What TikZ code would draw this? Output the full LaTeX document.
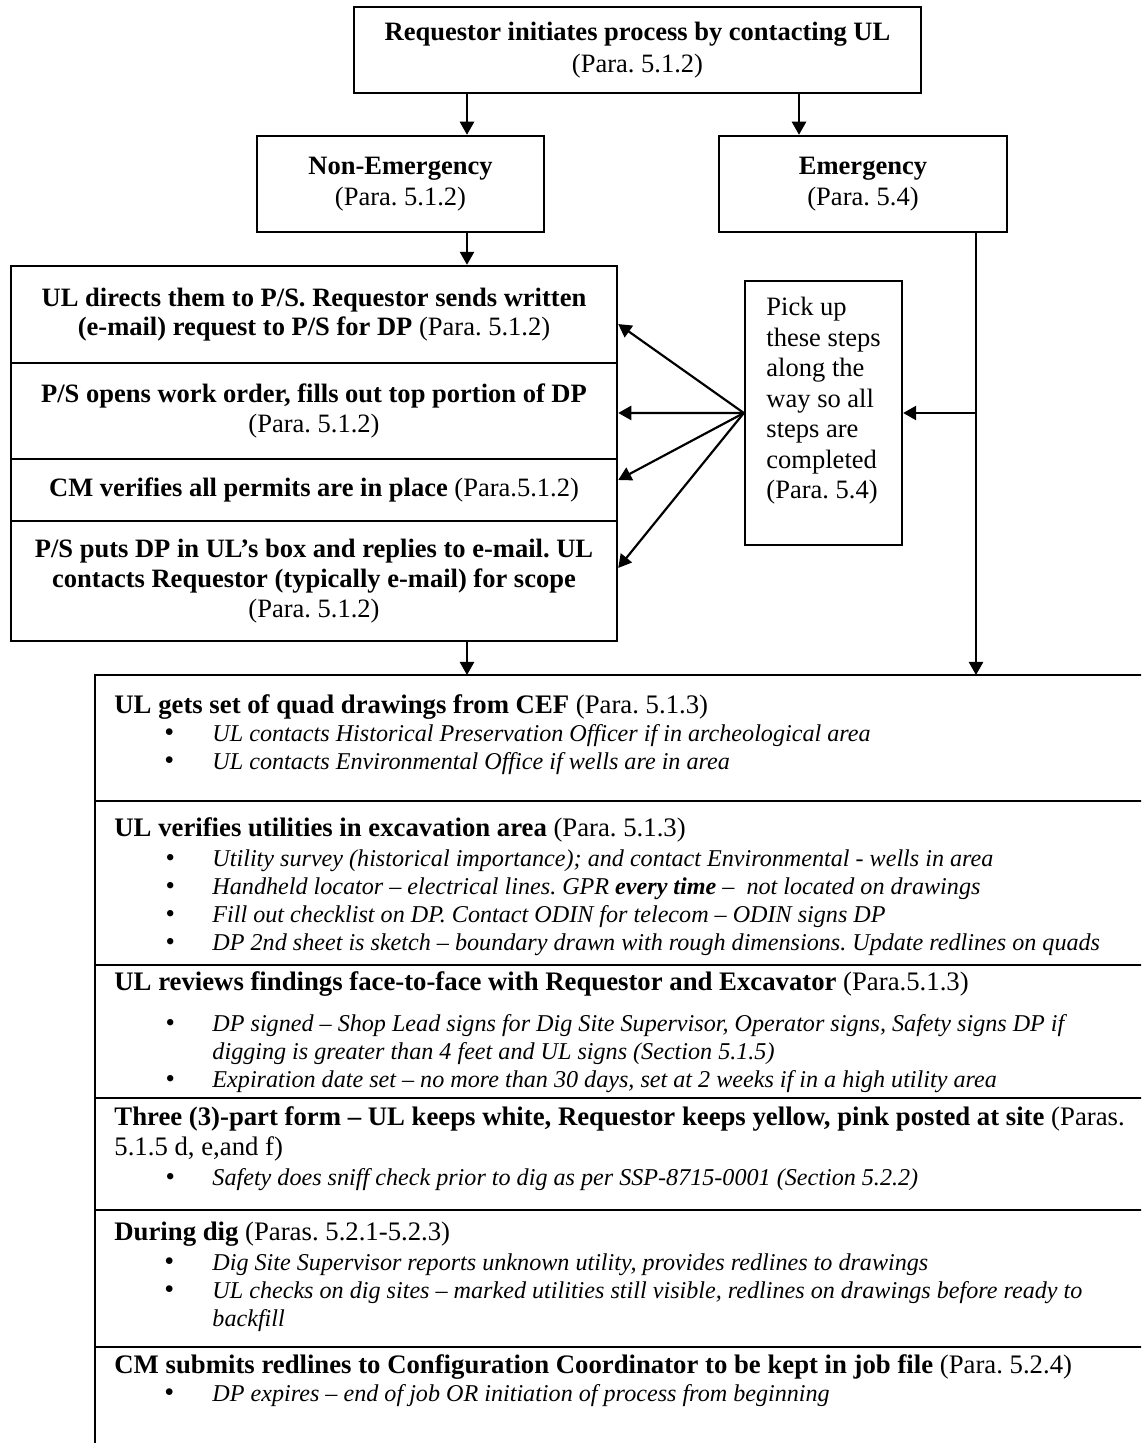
\documentclass[tikz,border=0pt]{standalone}
\usepackage{fontspec}
\setmainfont{Liberation Serif}
\usetikzlibrary{arrows.meta}
\frenchspacing

\tikzset{
  box/.style={draw, line width=1.1pt, align=center, inner sep=0pt, font=\fontsize{12.2}{14.5}\selectfont},
  arr/.style={-{Triangle[length=6pt,width=6.5pt]}, line width=1pt},
  boxline/.style={line width=1.1pt},
  sect/.style={anchor=north west, align=left, inner sep=0pt, font=\fontsize{12.3}{12.9}\selectfont}
}

% bullet lines for the lower box
\newcommand{\itm}{\hspace*{23.6pt}\makebox[21.5pt][l]{\textbullet}\fontsize{11.1}{12.9}\selectfont\itshape}
\newcommand{\itmbig}{\hspace*{23pt}\makebox[22.1pt][l]{\fontsize{13}{12}\selectfont\textbullet}\fontsize{11.1}{12.9}\selectfont\itshape}
\newcommand{\cont}{\hspace*{45.1pt}\fontsize{11.1}{12.9}\selectfont\itshape}

\begin{document}
\begin{tikzpicture}[x=0.46pt, y=-0.46pt]

    \useasboundingbox (0,0) rectangle (1141,1443);
    \clip (0,0) rectangle (1141,1443);

    % columns the arrows run along
    \coordinate (colA) at (467,0);
    \coordinate (colB) at (799,0);
    \coordinate (colC) at (976,0);

    % Top box
    \node[box, minimum width=260.8pt, minimum height=39.6pt] (top) at (637.5,50)
        {\textbf{Requestor initiates process by contacting UL}\\(Para. 5.1.2)};

    % The two branches
    \node[box, minimum width=132pt, minimum height=44.2pt] (nonem) at (400.5,184)
        {\textbf{Non-Emergency}\\(Para. 5.1.2)};
    \node[box, minimum width=132.5pt, minimum height=44.2pt] (emerg) at (863,184)
        {\textbf{Emergency}\\(Para. 5.4)};

    % Non-emergency steps, stacked
    \node[box, minimum width=278.8pt, minimum height=44.6pt, font=\fontsize{12.2}{13.3}\selectfont] (row1) at (314,314.5)
        {\textbf{UL directs them to P/S. Requestor sends written}\\\textbf{(e-mail) request to P/S for DP} (Para. 5.1.2)};
    \node[box, minimum width=278.8pt, minimum height=44.2pt, font=\fontsize{12.2}{13.8}\selectfont] (row2) at (314,411)
        {\textbf{P/S opens work order, fills out top portion of DP}\\(Para. 5.1.2)};
    \node[box, minimum width=278.8pt, minimum height=28.5pt] (row3) at (314,490)
        {\textbf{CM verifies all permits are in place} (Para.5.1.2)};
    \node[box, minimum width=278.8pt, minimum height=55.2pt, font=\fontsize{12.2}{13.8}\selectfont] (row4) at (314,581)
        {\textbf{P/S puts DP in UL’s box and replies to e-mail. UL}\\\textbf{contacts Requestor (typically e-mail) for scope}\\(Para. 5.1.2)};

    % Side note for the emergency path
    \node[box, minimum width=72.2pt, minimum height=121.4pt] (pick) at (823.5,413) {};
    \node[sect, font=\fontsize{12.2}{14}\selectfont] (picktxt) at (766,297)
        {Pick up\\these steps\\along the\\way so all\\steps are\\completed\\(Para. 5.4)};

    % Arrows down the page
    \draw[arr] (colA |- top.south) -- (colA |- nonem.north);
    \draw[arr] (colB |- top.south) -- (colB |- emerg.north);
    \draw[arr] (colA |- nonem.south) -- (colA |- row1.north);

    % Lower box, open at the right and bottom
    \coordinate (bottop) at (95,675);
    \draw[boxline] (1160,675) -- (bottop) -- (95,1460);
    \foreach \y in {801,965,1098,1210,1347}
        \draw[boxline] (95,\y) -- (1160,\y);

    \draw[arr] (colA |- row4.south) -- (colA |- bottop);
    \draw[arr] (colC |- emerg.south) -- (colC |- bottop);
    \draw[arr] (colC |- pick.east) -- (pick.east);

    % Pick-up note points at each step
    \foreach \r/\s in {row1/-4.4, row2/-0.9, row3/4.6, row4/6}
        \draw[arr] (pick.west) -- ([yshift=\s pt]\r.east);

    % Steps in the lower box
    \node[sect] (s1) at (114,694)
        {\textbf{UL gets set of quad drawings from CEF} (Para. 5.1.3)\\
         \itmbig UL contacts Historical Preservation Officer if in archeological area\\
         \itmbig UL contacts Environmental Office if wells are in area};
    \node[sect] (s2) at (114,817)
        {\textbf{UL verifies utilities in excavation area} (Para. 5.1.3)\\[1pt]
         \itm Utility survey (historical importance); and contact Environmental - wells in area\\
         \itm Handheld locator – electrical lines. GPR \textbf{every time} –\ \ not located on drawings\\
         \itm Fill out checklist on DP. Contact ODIN for telecom – ODIN signs DP\\
         \itm DP 2nd sheet is sketch – boundary drawn with rough dimensions. Update redlines on quads};
    \node[sect] (s3) at (114,971)
        {\textbf{UL reviews findings face-to-face with Requestor and Excavator} (Para.5.1.3)\\[6pt]
         \itm DP signed – Shop Lead signs for Dig Site Supervisor, Operator signs, Safety signs DP if\\
         \cont digging is greater than 4 feet and UL signs (Section 5.1.5)\\
         \itm Expiration date set – no more than 30 days, set at 2 weeks if in a high utility area};
    \node[sect] (s4) at (114,1106)
        {\textbf{Three (3)-part form – UL keeps white, Requestor keeps yellow, pink posted at site} (Paras.\\[1pt]
         5.1.5 d, e,and f)\\[1pt]
         \itm Safety does sniff check prior to dig as per SSP-8715-0001 (Section 5.2.2)};
    \node[sect] (s5) at (114,1221)
        {\textbf{During dig} (Paras. 5.2.1-5.2.3)\\[1pt]
         \itmbig Dig Site Supervisor reports unknown utility, provides redlines to drawings\\
         \itmbig UL checks on dig sites – marked utilities still visible, redlines on drawings before ready to\\
         \cont backfill};
    \node[sect] (s6) at (114,1354)
        {\textbf{CM submits redlines to Configuration Coordinator to be kept in job file} (Para. 5.2.4)\\
         \itmbig DP expires – end of job OR initiation of process from beginning};

\end{tikzpicture}
\end{document}
